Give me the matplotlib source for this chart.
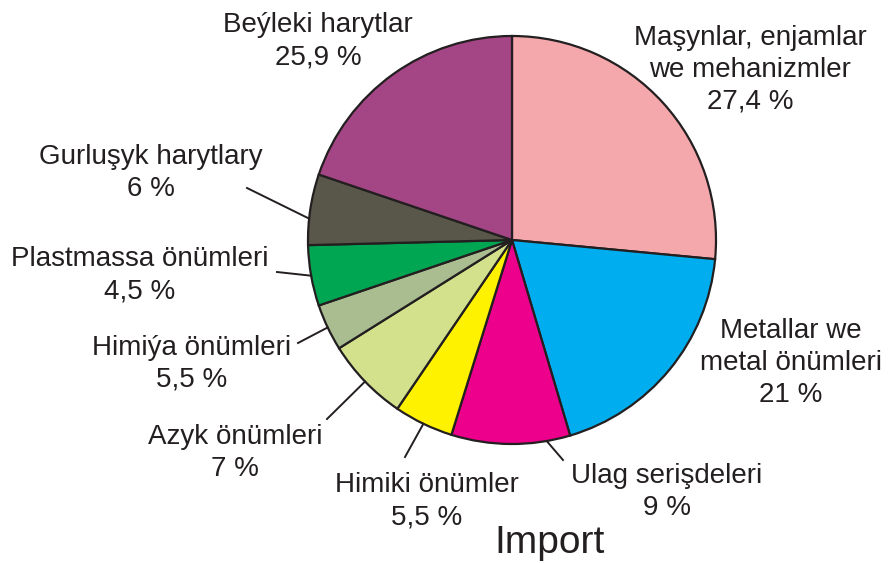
import matplotlib
matplotlib.use("Agg")
import matplotlib.pyplot as plt
import numpy as np

# slice shares as drawn in the picture (clockwise from 12 o'clock)
shares = [26.5, 18.9, 9.4, 4.7, 6.6, 3.7, 4.8, 5.6, 19.8]
names = [
    "Maşynlar, enjamlar\nwe mehanizmler",
    "Metallar we\nmetal önümleri",
    "Ulag serişdeleri",
    "Himiki önümler",
    "Azyk önümleri",
    "Himiýa önümleri",
    "Plastmassa önümleri",
    "Gurluşyk harytlary",
    "Beýleki harytlar",
]
pct_labels = ["27,4 %", "21 %", "9 %", "5,5 %", "7 %", "5,5 %", "4,5 %", "6 %", "25,9 %"]
colors = ["#F5A8AC", "#00AEEF", "#EC008C", "#FFF200", "#D3E18C",
          "#A9BD90", "#00A651", "#58574A", "#A44585"]
title = "Import"

W, H = 888, 563
plt.rcParams["font.family"] = ["Liberation Sans", "DejaVu Sans"]

# layout in pixel coordinates (x, y from top)
center = (512, 240)
radius = 204
label_pos = [(750, 70), (791, 363), (667, 492), (427, 501), (235, 453),
             (192, 364), (140, 275), (151, 173), (318, 41)]
# leader lines: slice index, point on the text side, where along the slice edge
leaders = [(2, (563, 460), 0.2), (3, (405, 457), 0.5), (4, (327, 419), 0.5),
           (5, (298, 343), 0.5), (6, (277, 272), 0.5), (7, (247, 188), 0.37)]


def px(x, y):
    return x, H - y


fig = plt.figure(figsize=(W / 100, H / 100), dpi=100)
ax = fig.add_axes([0, 0, 1, 1])
wedges, _ = ax.pie(
    shares,
    colors=colors,
    startangle=90,
    counterclock=False,
    center=px(*center),
    radius=radius,
    wedgeprops=dict(edgecolor="#231F20", linewidth=1.6),
)
ax.set_xlim(0, W)
ax.set_ylim(0, H)
ax.axis("off")

for name, pct, (x, y) in zip(names, pct_labels, label_pos):
    ax.text(*px(x, y), name + "\n" + pct, ha="center", va="center",
            fontsize=20, color="#231F20", linespacing=1.3)

cx, cy = px(*center)
for idx, (x, y), frac in leaders:
    w = wedges[idx]
    ang = np.radians(w.theta2 - frac * (w.theta2 - w.theta1))
    ex, ey = cx + radius * np.cos(ang), cy + radius * np.sin(ang)
    ax.plot([px(x, y)[0], ex], [px(x, y)[1], ey], color="#231F20", lw=1.4)

ax.text(*px(550, 543), title, ha="center", va="center", fontsize=28,
        color="#231F20")

fig.savefig("out.png", dpi=100)
